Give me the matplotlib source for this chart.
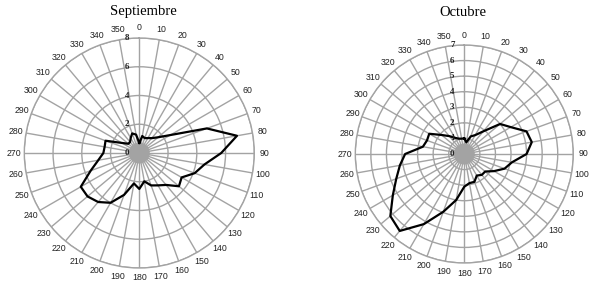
import numpy as np
import matplotlib
matplotlib.use("Agg")
import matplotlib.pyplot as plt
from matplotlib.transforms import ScaledTranslation

# ---- data ----
angles_deg = list(range(0, 360, 10))
angle_labels = [str(a) for a in angles_deg]

sept_values = [0.7, 1.2, 1.1, 1.2, 1.35, 1.7, 2.5, 5.0, 6.9, 5.7,
               4.6, 4.1, 3.4, 3.6, 2.9, 2.6, 2.4, 2.0, 2.5, 2.15,
               3.1, 4.0, 4.45, 4.7, 4.7, 3.6, 2.9, 2.5, 2.45, 2.5,
               1.4, 1.0, 1.0, 1.2, 1.45, 1.3]
oct_values = [1.0, 0.76, 1.2, 1.4, 1.9, 3.0, 3.45, 4.25, 4.4, 4.0,
              3.1, 2.75, 2.2, 1.75, 1.75, 1.6, 1.9, 1.9, 2.1, 3.0,
              3.95, 5.2, 6.45, 6.2, 5.3, 4.65, 4.2, 3.8, 2.7, 2.55,
              2.6, 1.9, 1.5, 1.2, 1.05, 1.0]

sept_rticks = [0, 2, 4, 6, 8]
oct_rticks = [0, 1, 2, 3, 4, 5, 6, 7]
titles = ["Septiembre", "Octubre"]

W, H = 595, 285
fig = plt.figure(figsize=(W / 100, H / 100), dpi=100)

GRID = "#a3a3a3"
SERIF = "Liberation Serif"
SANS = "Liberation Sans"


def radar(cx, cy, R, values, rticks, title, title_x, label_gap):
    ax = fig.add_axes([(cx - R) / W, (H - cy - R) / H, 2 * R / W, 2 * R / H],
                      projection="polar")
    ax.set_theta_zero_location("N")
    ax.set_theta_direction(-1)
    rmax = rticks[-1]
    ax.set_ylim(0, rmax)
    ax.set_facecolor("none")
    ax.set_thetagrids(angles_deg, [""] * len(angles_deg))
    ax.set_rgrids([t for t in rticks if t > 0], labels=[""] * (len(rticks) - 1))
    ax.grid(True, color=GRID, lw=1.0)
    ax.spines["polar"].set_color(GRID)
    ax.spines["polar"].set_linewidth(1.0)

    # dense hub where spokes meet
    hub = np.linspace(0, 2 * np.pi, 120)
    ax.fill(hub, np.full_like(hub, rmax * 10.5 / R), color=GRID, lw=0, zorder=2)

    # angle labels around the outer ring
    r_lab = rmax * (1 + label_gap / R)
    for a, lab in zip(angles_deg, angle_labels):
        ax.text(np.deg2rad(a), r_lab, lab, ha="center", va="center",
                fontsize=6.3, family=SANS, color="#222222", clip_on=False)

    th = np.deg2rad(angles_deg + [angles_deg[0]])
    vals = values + [values[0]]
    ax.plot(th, vals, color="black", lw=1.6, zorder=5, clip_on=False)

    off = ScaledTranslation(-12 / 100, 0, fig.dpi_scale_trans)
    for t in rticks:
        ax.text(0, t, str(t), transform=ax.transData + off, ha="center",
                va="center", fontsize=6.5, family=SERIF, fontweight="bold",
                color="#222222", zorder=6)
    fig.text(title_x / W, 1 - 12 / H, title, ha="center", va="center",
             fontsize=10.5, family=SERIF)
    return ax


radar(139.3, 153, 115, sept_values, sept_rticks, titles[0], 143, 10)
radar(464.3, 154, 109, oct_values, oct_rticks, titles[1], 463, 10)

fig.savefig("out.png", dpi=100)
